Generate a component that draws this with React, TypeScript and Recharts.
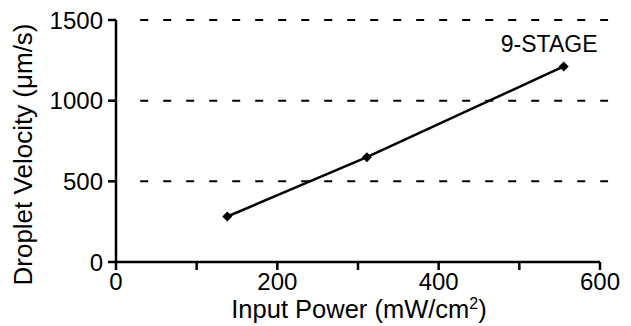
import { LineChart, Line, XAxis, YAxis, ReferenceLine, ReferenceDot, Label } from "recharts";

// input power (mW/cm^2) vs droplet velocity (um/s)
const inputPower = [138, 311, 555];
const velocity = [282, 650, 1212];
const xTicks = [0, 100, 200, 300, 400, 500, 600];
const yTicks = [0, 500, 1000, 1500];
const gridLevels = [500, 1000, 1500];
const gridSpan = [30, 610];
const seriesName = "9-STAGE";
const seriesLabelAt = { x: 537, y: 1355 };

const FONT = "'Liberation Sans', Arial, sans-serif";

const data = inputPower.map((x, i) => ({ power: x, velocity: velocity[i] }));

const Diamond = (props: any) => {
  const { cx, cy } = props;
  if (cx == null || cy == null) return null;
  const r = 5;
  return (
    <path
      d={`M${cx},${cy - r}L${cx + r},${cy}L${cx},${cy + r}L${cx - r},${cy}Z`}
      fill="#000"
      stroke="none"
    />
  );
};

const XLabel = (props: any) => {
  const vb = props.viewBox;
  const cx = vb.x + vb.width / 2 + 1;
  return (
    <text x={cx} y={318} textAnchor="middle" fontFamily={FONT} fontSize={25.5} fill="#000">
      Input Power (mW/cm
      <tspan fontSize={16} dy={-9}>2</tspan>
      <tspan dy={9}>)</tspan>
    </text>
  );
};

const YLabel = (props: any) => {
  const vb = props.viewBox;
  const cy = vb.y + vb.height / 2 + 13.5;
  return (
    <text
      x={32}
      y={cy}
      transform={`rotate(-90, 32, ${cy})`}
      textAnchor="middle"
      fontFamily={FONT}
      fontSize={26}
      fill="#000"
    >
      Droplet Velocity (μm/s)
    </text>
  );
};

export default function App() {
  return (
    <div style={{ position: "absolute", left: 0, top: 0, width: 631, height: 326, background: "#fff" }}>
      <LineChart
        width={631}
        height={326}
        data={data}
        margin={{ top: 20, right: 31, bottom: 0, left: 0 }}
      >
        {gridLevels.map((g) => (
          <ReferenceLine
            key={g}
            segment={[{ x: gridSpan[0], y: g }, { x: gridSpan[1], y: g }]}
            ifOverflow="visible"
            stroke="#000"
            strokeWidth={2}
            strokeDasharray="8 15"
          />
        ))}
        <XAxis
          type="number"
          dataKey="power"
          domain={[0, 600]}
          ticks={xTicks}
          interval={0}
          tickFormatter={(v: number) => (v % 200 === 0 ? String(v) : "")}
          height={64}
          tickSize={8}
          tickMargin={3}
          axisLine={{ stroke: "#000", strokeWidth: 2.5 }}
          tickLine={{ stroke: "#000", strokeWidth: 2.5 }}
          tick={{ fill: "#000", fontSize: 24, fontFamily: FONT }}
        >
          <Label content={XLabel} />
        </XAxis>
        <YAxis
          type="number"
          domain={[0, 1500]}
          ticks={yTicks}
          interval={0}
          width={116}
          tickSize={8}
          tickMargin={5}
          axisLine={{ stroke: "#000", strokeWidth: 2.5 }}
          tickLine={{ stroke: "#000", strokeWidth: 2.5 }}
          tick={{ fill: "#000", fontSize: 24, fontFamily: FONT }}
        >
          <Label content={YLabel} />
        </YAxis>
        <Line
          type="linear"
          dataKey="velocity"
          stroke="#000"
          strokeWidth={2.5}
          dot={<Diamond />}
          activeDot={false}
          isAnimationActive={false}
        />
        <ReferenceDot
          x={seriesLabelAt.x}
          y={seriesLabelAt.y}
          r={0}
          stroke="none"
          fill="none"
          ifOverflow="visible"
          label={{ value: seriesName, position: "center", fill: "#000", fontSize: 23, fontFamily: FONT }}
        />
      </LineChart>
    </div>
  );
}
